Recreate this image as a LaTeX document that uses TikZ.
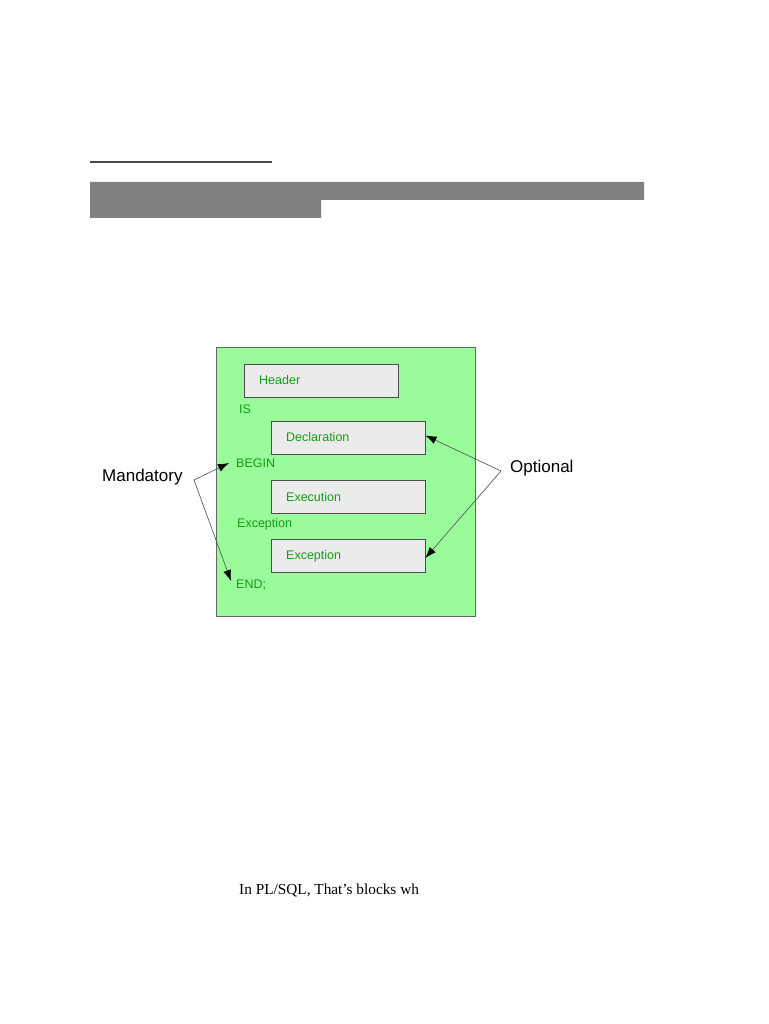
\documentclass[tikz,border=0pt]{standalone}
\usepackage{fontspec}
\setmainfont{Liberation Serif}
\setsansfont{Liberation Sans}
\usetikzlibrary{arrows.meta}

\definecolor{blockgreen}{RGB}{153,251,153}
\definecolor{codegreen}{RGB}{20,158,20}
\definecolor{boxgray}{RGB}{235,235,235}
\definecolor{bargray}{RGB}{128,128,128}

\newcommand\codetextstyle{\sffamily\fontsize{12.5}{14}\selectfont\color{codegreen}}
\newcommand\notetextstyle{\sffamily\fontsize{17}{20}\selectfont}
\newcommand\pagetextstyle{\rmfamily\fontsize{15.3}{18}\selectfont}

\tikzset{
  codeword/.style={anchor=west, inner sep=0pt, font=\codetextstyle},
  codebox/.style={draw=black!70, fill=boxgray, anchor=west, inner ysep=0pt,
    inner xsep=15pt, text width=124pt, minimum height=33pt, align=left,
    font=\codetextstyle},
  noteword/.style={anchor=west, inner sep=0pt, font=\notetextstyle},
  callout/.style={draw=black!70, line width=0.6pt,
    -{Latex[length=11pt,width=8pt,black]}}
}

\begin{document}
\begin{tikzpicture}[x=1pt, y=-1pt]
  \useasboundingbox (0,0) rectangle (768,1024);

  % rule and grey bar at the top
  \draw[black!70, line width=1.3pt] (90,162) -- (272,162);
  \fill[bargray] (90,182) -- (644,182) -- (644,200) -- (321,200)
    -- (321,218) -- (90,218) -- cycle;

  % the block
  \draw[black!60, fill=blockgreen, line width=0.8pt] (216,347) rectangle (475,616);

  \node[codebox] (header) at (244,380.5) {Header};
  \node[codeword] (is) at (239,409) {IS};
  \node[codebox] (decl) at (271,437.5) {Declaration};
  \node[codeword] (begin) at (236,463) {BEGIN};
  \node[codebox] (exec) at (271,497) {Execution};
  \node[codeword] (excword) at (237,524) {Exception};
  \node[codebox] (exc) at (271,556) {Exception};
  \node[codeword] (end) at (236,585) {END;};

  % callouts
  \node[noteword] (mand) at (102,477) {Mandatory};
  \node[noteword] (opt) at (510,468) {Optional};
  \coordinate (mandpt) at (194,480);
  \coordinate (optpt) at (501,471);

  \draw[callout] (mandpt) -- ([xshift=-7pt]begin.west);
  \draw[callout] (mandpt) -- ([xshift=-5pt,yshift=4pt]end.west);
  \draw[callout] (optpt) -- ([yshift=2pt]decl.east);
  \draw[callout] (optpt) -- ([yshift=-2pt]exc.east);

  % start of the page text
  \node[anchor=west, inner sep=0pt, font=\pagetextstyle] (pagetext) at (239,890)
    {In PL/SQL, That’s blocks wh};
\end{tikzpicture}
\end{document}
